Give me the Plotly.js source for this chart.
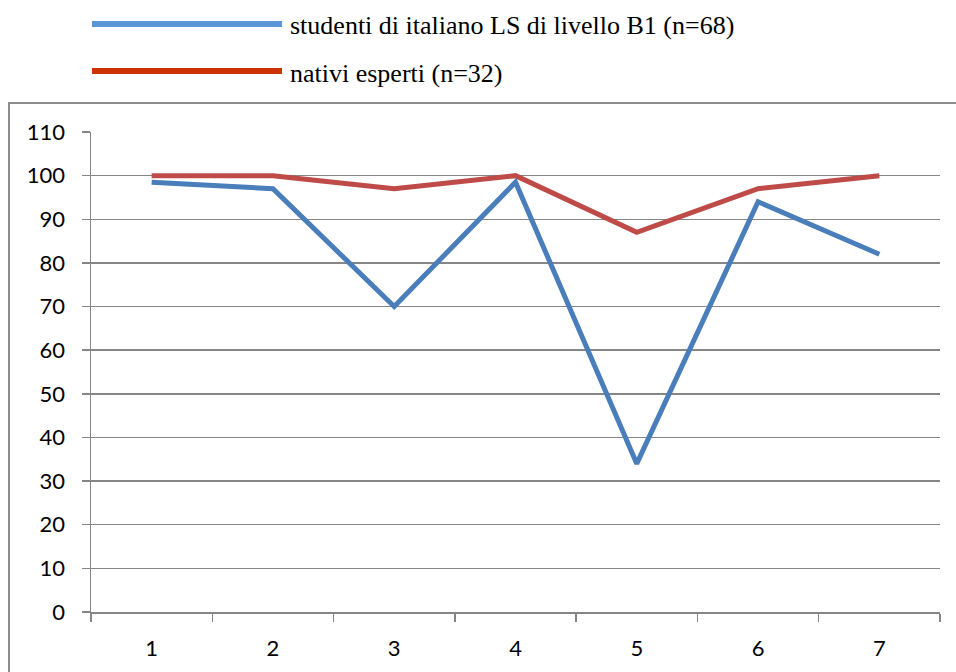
<!DOCTYPE html>
<html><head><meta charset="utf-8">
<script src="https://cdn.plot.ly/plotly-3.0.1.min.js"></script>
<style>html,body{margin:0;padding:0;background:#fff;}#chart{width:956px;height:672px;}</style>
</head><body><div id="chart"></div>
<script>
const categories = ['1','2','3','4','5','6','7'];
const studenti = [98.5, 97, 70, 98.5, 34, 94, 82];
const nativi = [100, 100, 97, 100, 87, 97, 100];
const seriesNames = ['studenti di italiano LS di livello B1 (n=68)', 'nativi esperti (n=32)'];
const yTicks = [0,10,20,30,40,50,60,70,80,90,100,110];

const lineColors = ['#4a7ebb', '#be4b48'];
const legendColors = ['#5b96d6', '#cc3300'];

const traces = [
  {x: categories, y: studenti, type: 'scatter', mode: 'lines', name: seriesNames[0], line: {color: lineColors[0], width: 5}, showlegend: false},
  {x: categories, y: nativi, type: 'scatter', mode: 'lines', name: seriesNames[1], line: {color: lineColors[1], width: 5}, showlegend: false}
];

const L = 91, R = 16, T = 132, B = 60, W = 956, H = 672;
const pw = W - L - R, ph = H - T - B;
const px = v => (v - L) / pw;
const py = v => (H - B - v) / ph;

const shapes = [
  {type: 'rect', xref: 'paper', yref: 'paper', x0: px(9), x1: px(970), y0: py(103), y1: py(690), line: {color: '#8c8c8c', width: 2}, layer: 'below'},
  {type: 'line', xref: 'paper', yref: 'paper', x0: px(92), x1: px(282), y0: py(24), y1: py(24), line: {color: legendColors[0], width: 6}},
  {type: 'line', xref: 'paper', yref: 'paper', x0: px(92), x1: px(282), y0: py(71), y1: py(71), line: {color: legendColors[1], width: 6}}
];
const serif = 'Liberation Serif, Times New Roman, serif';
const annotations = seriesNames.map((n, i) => ({
  text: n, xref: 'paper', yref: 'paper', x: px(288), y: py(i === 0 ? 26 : 73),
  xanchor: 'left', yanchor: 'middle', showarrow: false,
  font: {family: serif, size: 26, color: '#000'}
}));

const tickFont = {family: 'Lato, "Open Sans", sans-serif', size: 22, color: '#000'};
const layout = {
  width: W, height: H,
  margin: {l: L, r: R, t: T, b: B, pad: 0},
  paper_bgcolor: '#fff', plot_bgcolor: '#fff',
  showlegend: false,
  font: tickFont,
  xaxis: {
    type: 'category', categoryorder: 'array', categoryarray: categories,
    range: [-0.5, 6.5], tickson: 'boundaries', ticks: 'outside', ticklen: 8,
    tickcolor: '#868686', tickwidth: 1.5,
    showline: true, linecolor: '#868686', linewidth: 1.5,
    showgrid: false, zeroline: false, fixedrange: true,
    ticklabelstandoff: 16,
    tickfont: tickFont
  },
  yaxis: {
    range: [0, 110], tickmode: 'array', tickvals: yTicks, ticktext: yTicks.map(String),
    ticks: 'outside', ticklen: 8, tickcolor: '#868686', tickwidth: 1.5,
    showline: true, linecolor: '#868686', linewidth: 1.5,
    showgrid: true, gridcolor: '#868686', gridwidth: 1.5,
    zeroline: false, fixedrange: true, ticklabelstandoff: 12,
    tickfont: tickFont
  },
  shapes: shapes,
  annotations: annotations
};

Plotly.newPlot('chart', traces, layout, {displayModeBar: false, staticPlot: true});
</script></body></html>
